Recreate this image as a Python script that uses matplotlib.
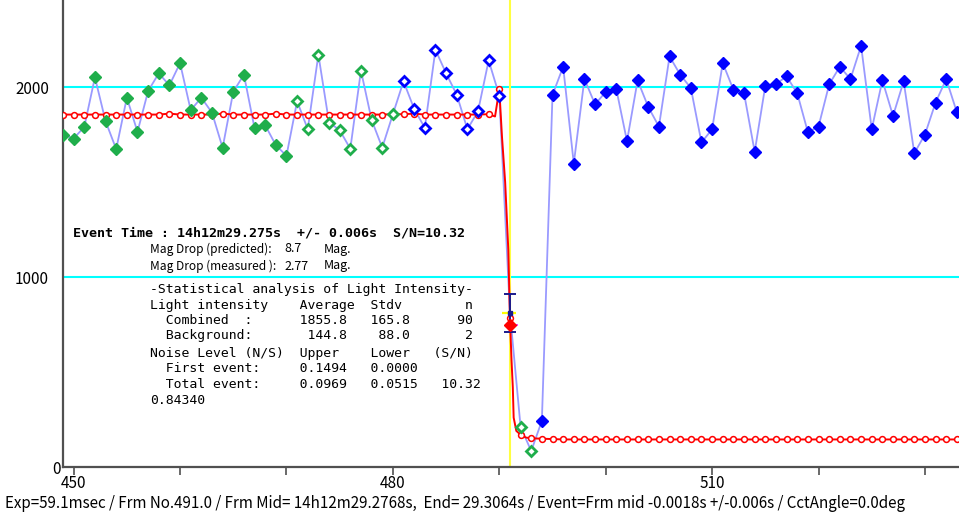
import numpy as np
import matplotlib
matplotlib.use('Agg')
import matplotlib.pyplot as plt

# ---------------- data ----------------
frames = list(range(449, 534))
intensity = [1750, 1729, 1790, 2051, 1820, 1673, 1944, 1764, 1979, 2072,
             2009, 2126, 1878, 1944, 1865, 1680, 1975, 2065, 1783, 1799,
             1694, 1638, 1925, 1778, 2170, 1813, 1773, 1675, 2086, 1827,
             1681, 1857, 2030, 1885, 1785, 2196, 2072, 1960, 1778, 1872,
             2140, 1955, 812, 212, 84, 243, 1958, 2107, 1597, 2042,
             1909, 1974, 1988, 1715, 2035, 1895, 1792, 2161, 2065, 1995,
             1708, 1778, 2126, 1986, 1967, 1659, 2007, 2016, 2056, 1967,
             1762, 1792, 2014, 2107, 2042, 2217, 1778, 2035, 1848, 2030,
             1652, 1750, 1918, 2042, 1867]

green_filled_frames = list(range(449, 471))
green_open_frames = list(range(471, 481)) + [492, 493]
blue_open_frames = list(range(481, 491))
blue_filled_frames = list(range(494, 534))
event_frame = 491
event_value = 812
event_err = 100
measured_value = 749

# model light curve (red): values at each frame
red_circles = [1855, 1855, 1855, 1855, 1855, 1855, 1855, 1855, 1855, 1855,
               1860, 1855, 1855, 1855, 1855, 1860, 1855, 1855, 1855, 1855,
               1860, 1855, 1855, 1855, 1855, 1855, 1855, 1855, 1855, 1855,
               1855, 1857, 1857, 1860, 1855, 1855, 1855, 1855, 1855, 1855,
               1857, 1988, 784, 170, 151, 149, 147, 145, 145, 145,
               145, 145, 145, 145, 145, 145, 145, 145, 145, 145,
               145, 145, 145, 145, 145, 145, 145, 145, 145, 145,
               145, 145, 145, 145, 145, 145, 145, 145, 145, 145,
               145, 145, 145, 145, 145]
# extra sub-frame samples of the model curve around the event
red_detail_frames = [489.6, 490.25, 490.55, 490.85, 491.15, 491.27, 491.35, 491.6, 492.5]
red_detail_values = [1845, 1740, 1500, 1140, 560, 420, 260, 190, 155]

xtick_major = [450, 480, 510]
xtick_minor = [460, 470, 490, 500, 520, 530]
ytick_vals = [0, 1000, 2000]
ref_lines = [1000, 2000]

# ---------------- style ----------------
GREEN = '#1fae4b'
BLUE = '#0000ff'
LBLUE = '#9a9aff'
RED = '#ff0000'
NARROW = ['Noto Sans CJK JP', 'DejaVu Sans']
MONO = ['DejaVu Sans Mono']

W, H = 959, 522
fig = plt.figure(figsize=(W / 100, H / 100), dpi=100)
ax = fig.add_axes([63 / W, 55 / H, 896 / W, 467 / H])
ax.set_xlim(449.0, 533.2)
ax.set_ylim(0, 2458)

for s in ['top', 'right']:
    ax.spines[s].set_visible(False)
for s in ['left', 'bottom']:
    ax.spines[s].set_color('#505050')
    ax.spines[s].set_linewidth(1.6)

# reference lines
for v in ref_lines:
    ax.axhline(v, color='#00ffff', lw=1.5, zorder=1)
ax.axvline(event_frame, color='#ffff40', lw=1.5, zorder=1.5)

# data line
ax.plot(frames, intensity, color=LBLUE, lw=1.3, zorder=2)

# model curve
pairs = sorted(list(zip(frames, red_circles)) + list(zip(red_detail_frames, red_detail_values)))
ax.plot([p[0] for p in pairs], [p[1] for p in pairs], color=RED, lw=1.4, zorder=3)
ax.plot(frames, red_circles, ls='none', marker='o', ms=4.2, mfc='white',
        mec=RED, mew=1.1, zorder=3.5)

val = dict(zip(frames, intensity))
def pts(fr):
    return fr, [val[f] for f in fr]

x, y = pts(green_filled_frames)
ax.plot(x, y, ls='none', marker='D', ms=5.8, color=GREEN, zorder=5)
x, y = pts(green_open_frames)
ax.plot(x, y, ls='none', marker='D', ms=5.3, mfc='white', mec=GREEN, mew=2, zorder=5)
x, y = pts(blue_open_frames)
ax.plot(x, y, ls='none', marker='D', ms=5.3, mfc='white', mec=BLUE, mew=2, zorder=5)
x, y = pts(blue_filled_frames)
ax.plot(x, y, ls='none', marker='D', ms=5.8, color=BLUE, zorder=5, clip_on=False)

# event point with error bars
ax.errorbar([event_frame], [event_value], xerr=[[0.7], [0.55]], fmt='none',
            ecolor='#ffff00', elinewidth=1.6, zorder=5.5)
ax.errorbar([event_frame], [event_value], yerr=event_err, fmt='s', ms=3.5,
            color='#1a1a8c', ecolor='#1a1a8c', elinewidth=1.4, capsize=4, capthick=1.4, zorder=6)
ax.errorbar([event_frame], [measured_value], xerr=[[0.4], [0.8]], fmt='D', ms=6,
            color=RED, ecolor='#ff40ff', elinewidth=1.4, zorder=6.5)

# ticks
ax.set_xticks(xtick_major)
ax.set_xticks(xtick_minor, minor=True)
ax.set_xticklabels([str(v) for v in xtick_major], family=NARROW, fontsize=11)
ax.tick_params(axis='x', which='both', direction='out', length=6, width=1.2,
               color='#505050', pad=0)
ax.set_yticks(ytick_vals)
ax.set_yticklabels([str(v) for v in ytick_vals], family=NARROW, fontsize=11)
ax.tick_params(axis='y', length=0, pad=10)
for lbl in ax.get_yticklabels():
    if lbl.get_text() == '0':
        lbl.set_x(0.0125)

# text block
def px(xp, yp):
    return xp / W, 1 - yp / H

fig.text(*px(73, 233), 'Event Time : 14h12m29.275s  +/- 0.006s  S/N=10.32',
         family=MONO, fontsize=9.6, fontweight='bold', va='center')
for yp, lab, v in [(249, 'Mag Drop (predicted):', '8.7'), (266, 'Mag Drop (measured ):', '2.77')]:
    fig.text(*px(150, yp), lab, family=NARROW, fontsize=8.6, va='center')
    fig.text(*px(284, yp), v, family=NARROW, fontsize=9, va='center')
    fig.text(*px(324, yp), 'Mag.', family=NARROW, fontsize=9, va='center')

stat_lines = [
    '-Statistical analysis of Light Intensity-',
    'Light intensity    Average  Stdv        n',
    '  Combined  :      1855.8   165.8      90',
    '  Background:       144.8    88.0       2',
    'Noise Level (N/S)  Upper    Lower   (S/N)',
    '  First event:     0.1494   0.0000',
    '  Total event:     0.0969   0.0515   10.32',
    '0.84340',
]
stat_y = [289, 305, 321, 336, 353, 369, 384, 400]
for yp, s in zip(stat_y, stat_lines):
    fig.text(*px(150, yp), s, family=MONO, fontsize=9.45, va='center')

fig.text(*px(5, 503),
         'Exp=59.1msec / Frm No.491.0 / Frm Mid= 14h12m29.2768s,  End= 29.3064s / '
         'Event=Frm mid -0.0018s +/-0.006s / CctAngle=0.0deg',
         family=NARROW, fontsize=10.9, va='center')

fig.savefig('out.png', dpi=100)
